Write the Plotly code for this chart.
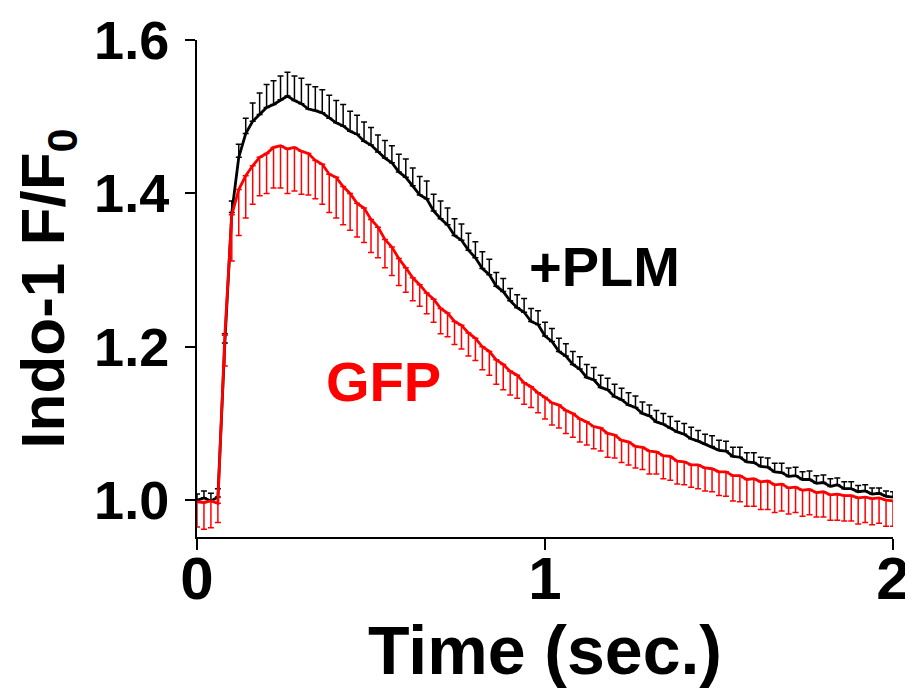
import plotly.graph_objects as go

# time axis (s), sampled every 0.02 s
time_s = [round(i * 0.02, 2) for i in range(101)]

plm_mean = [
    1.000, 1.003, 0.999, 1.004, 1.205, 1.375, 1.447, 1.478, 1.494, 1.503,
    1.512, 1.516, 1.522, 1.527, 1.521, 1.517, 1.510, 1.508, 1.505, 1.498,
    1.492, 1.488, 1.481, 1.477, 1.468, 1.463, 1.454, 1.446, 1.440, 1.428,
    1.421, 1.410, 1.398, 1.393, 1.377, 1.367, 1.359, 1.345, 1.339, 1.326,
    1.316, 1.302, 1.294, 1.279, 1.272, 1.260, 1.251, 1.245, 1.233, 1.229,
    1.214, 1.207, 1.194, 1.188, 1.177, 1.171, 1.160, 1.157, 1.147, 1.144,
    1.135, 1.131, 1.124, 1.121, 1.113, 1.110, 1.102, 1.099, 1.094, 1.089,
    1.086, 1.080, 1.077, 1.073, 1.070, 1.065, 1.064, 1.057, 1.056, 1.050,
    1.049, 1.044, 1.043, 1.037, 1.036, 1.031, 1.032, 1.027, 1.027, 1.022,
    1.023, 1.018, 1.020, 1.015, 1.015, 1.011, 1.012, 1.008, 1.009, 1.005,
    1.004,
]
plm_err = [
    0.008, 0.009, 0.010, 0.011, 0.012, 0.015, 0.017, 0.020, 0.024, 0.028,
    0.030, 0.031, 0.031, 0.031, 0.032, 0.033, 0.032, 0.031, 0.030, 0.030,
    0.029, 0.028, 0.026, 0.025, 0.025, 0.023, 0.022, 0.023, 0.022, 0.023,
    0.024, 0.023, 0.024, 0.023, 0.022, 0.023, 0.022, 0.022, 0.021, 0.022,
    0.021, 0.022, 0.020, 0.018, 0.017, 0.016, 0.017, 0.018, 0.017, 0.018,
    0.018, 0.017, 0.017, 0.016, 0.017, 0.016, 0.017, 0.016, 0.016, 0.015,
    0.016, 0.015, 0.016, 0.015, 0.015, 0.014, 0.015, 0.014, 0.015, 0.014,
    0.014, 0.015, 0.014, 0.013, 0.014, 0.013, 0.013, 0.012, 0.013, 0.012,
    0.013, 0.012, 0.012, 0.011, 0.012, 0.011, 0.011, 0.010, 0.011, 0.010,
    0.010, 0.010, 0.009, 0.009, 0.009, 0.008, 0.008, 0.008, 0.007, 0.007,
    0.007,
]
gfp_mean = [
    0.998, 0.997, 0.999, 0.996, 1.215, 1.372, 1.405, 1.423, 1.436, 1.447,
    1.452, 1.460, 1.462, 1.458, 1.460, 1.455, 1.452, 1.443, 1.438, 1.425,
    1.421, 1.409, 1.400, 1.387, 1.381, 1.366, 1.356, 1.340, 1.330, 1.315,
    1.303, 1.290, 1.281, 1.270, 1.262, 1.250, 1.244, 1.233, 1.228, 1.218,
    1.211, 1.200, 1.194, 1.183, 1.177, 1.168, 1.163, 1.153, 1.148, 1.140,
    1.134, 1.127, 1.124, 1.117, 1.113, 1.106, 1.102, 1.096, 1.094, 1.087,
    1.085, 1.078, 1.076, 1.070, 1.069, 1.064, 1.063, 1.058, 1.057, 1.051,
    1.050, 1.046, 1.046, 1.042, 1.041, 1.037, 1.037, 1.032, 1.032, 1.027,
    1.028, 1.024, 1.025, 1.020, 1.021, 1.016, 1.017, 1.013, 1.014, 1.010,
    1.011, 1.007, 1.008, 1.006, 1.006, 1.003, 1.004, 1.002, 1.003, 1.000,
    0.999,
]
gfp_err = [
    0.033, 0.035, 0.035, 0.025, 0.040, 0.060, 0.060, 0.055, 0.050, 0.050,
    0.052, 0.053, 0.055, 0.058, 0.057, 0.056, 0.054, 0.050, 0.052, 0.050,
    0.053, 0.050, 0.048, 0.044, 0.045, 0.043, 0.040, 0.037, 0.037, 0.035,
    0.032, 0.030, 0.028, 0.027, 0.030, 0.033, 0.031, 0.030, 0.031, 0.030,
    0.029, 0.030, 0.031, 0.032, 0.033, 0.031, 0.030, 0.028, 0.027, 0.026,
    0.028, 0.029, 0.030, 0.030, 0.031, 0.030, 0.030, 0.029, 0.030, 0.031,
    0.030, 0.029, 0.030, 0.028, 0.029, 0.030, 0.029, 0.030, 0.031, 0.030,
    0.030, 0.029, 0.031, 0.030, 0.030, 0.031, 0.032, 0.033, 0.034, 0.035,
    0.036, 0.036, 0.037, 0.036, 0.035, 0.034, 0.033, 0.034, 0.033, 0.032,
    0.033, 0.033, 0.034, 0.033, 0.033, 0.034, 0.033, 0.034, 0.033, 0.034,
    0.033,
]

x_ticks = [0, 1, 2]
x_tick_labels = ["0", "1", "2"]
y_ticks = [1.0, 1.2, 1.4, 1.6]
y_tick_labels = ["1.0", "1.2", "1.4", "1.6"]

FONT = "Liberation Sans, Arial, sans-serif"

fig = go.Figure()
fig.add_trace(go.Scatter(
    x=time_s, y=plm_mean, mode="lines", name="+PLM",
    line=dict(color="black", width=2.8),
    error_y=dict(type="data", array=plm_err, arrayminus=[0] * len(plm_err),
                 symmetric=False, color="black", thickness=1.5, width=3),
))
fig.add_trace(go.Scatter(
    x=time_s, y=gfp_mean, mode="lines", name="GFP",
    line=dict(color="#ff0000", width=2.8),
    error_y=dict(type="data", array=[0] * len(gfp_err), arrayminus=gfp_err,
                 symmetric=False, color="#ff0000", thickness=1.5, width=3),
))

fig.add_annotation(x=1.17, y=1.305, text="<b>+PLM</b>", showarrow=False,
                   font=dict(family=FONT, size=56, color="black"))
fig.add_annotation(x=0.535, y=1.155, text="<b>GFP</b>", showarrow=False,
                   font=dict(family=FONT, size=56, color="#ff0000"))

fig.update_layout(
    width=905, height=683,
    margin=dict(l=189, r=20, t=32, b=154, autoexpand=False),
    paper_bgcolor="white", plot_bgcolor="white",
    showlegend=False,
    font=dict(family=FONT, color="black"),
    xaxis=dict(
        range=[0, 2], tickmode="array", tickvals=x_ticks, ticktext=x_tick_labels,
        showline=True, linecolor="black", linewidth=2, mirror=False,
        ticks="outside", ticklen=11, tickwidth=2, tickcolor="black",
        showgrid=False, zeroline=False, automargin=False,
        ticklabelstandoff=-23,
        tickfont=dict(family=FONT, size=60, color="black", weight="bold"),
        title=dict(text="<b>Time (sec.)</b>", standoff=0,
                   font=dict(family=FONT, size=68, color="black")),
    ),
    yaxis=dict(
        range=[0.952, 1.6], tickmode="array", tickvals=y_ticks, ticktext=y_tick_labels,
        showline=True, linecolor="black", linewidth=2, mirror=False,
        ticks="outside", ticklen=10, tickwidth=2, tickcolor="black",
        showgrid=False, zeroline=False, automargin=False,
        ticklabelstandoff=5,
        tickfont=dict(family=FONT, size=54, color="black", weight="bold"),
        title=dict(text="<b>Indo-1 F/F<sub>0</sub></b>", standoff=16,
                   font=dict(family=FONT, size=62, color="black")),
    ),
)

fig.write_html("out.html")
